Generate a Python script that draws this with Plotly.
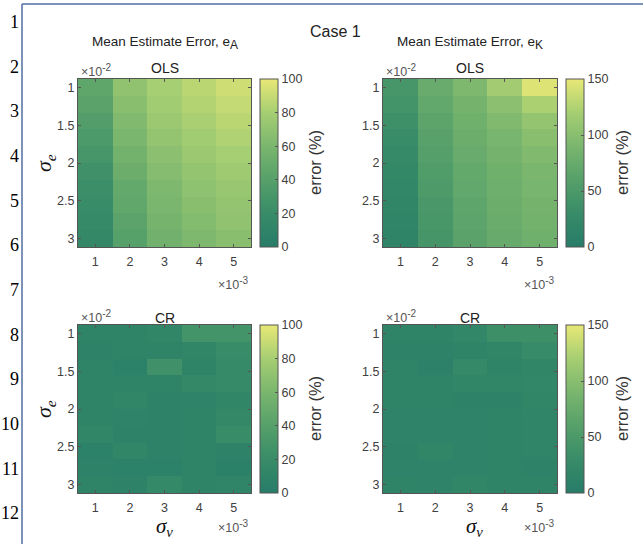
import plotly.graph_objects as go

W, H = 643, 544

sigma_v = [1, 2, 3, 4, 5]  # x 1e-3
sigma_e = [1.0, 1.222, 1.444, 1.667, 1.889, 2.111, 2.333, 2.556, 2.778, 3.0]  # x 1e-2

# rows = sigma_e (top to bottom), cols = sigma_v
eA_ols = [
    [45, 70, 80, 86, 92],
    [42, 67, 78, 84, 89],
    [37, 63, 75, 81, 86],
    [33, 60, 72, 78, 83],
    [30, 56, 68, 75, 80],
    [25, 52, 65, 72, 77],
    [22, 48, 62, 69, 74],
    [20, 46, 60, 67, 72],
    [18, 43, 58, 64, 70],
    [15, 40, 55, 62, 67],
]
eK_ols = [
    [45, 75, 92, 118, 145],
    [42, 70, 86, 102, 122],
    [36, 66, 82, 95, 108],
    [30, 62, 78, 88, 100],
    [27, 58, 75, 85, 95],
    [22, 55, 72, 82, 90],
    [20, 52, 70, 80, 88],
    [18, 48, 67, 78, 86],
    [16, 46, 65, 76, 84],
    [15, 44, 63, 74, 82],
]
eA_cr = [
    [10, 10, 12, 28, 28],
    [8, 10, 10, 12, 20],
    [10, 7, 25, 10, 18],
    [10, 10, 10, 15, 18],
    [10, 12, 8, 9, 12],
    [10, 9, 8, 10, 15],
    [12, 8, 8, 10, 20],
    [7, 12, 8, 10, 8],
    [8, 7, 7, 10, 6],
    [10, 8, 16, 10, 11],
]
eK_cr = [
    [15, 15, 20, 35, 35],
    [12, 12, 15, 18, 28],
    [15, 10, 25, 15, 18],
    [15, 15, 18, 18, 20],
    [15, 15, 12, 12, 18],
    [13, 13, 13, 15, 17],
    [13, 13, 13, 15, 17],
    [12, 18, 13, 15, 17],
    [13, 13, 13, 15, 12],
    [15, 13, 18, 15, 15],
]
cbar_A = [0, 20, 40, 60, 80, 100]
cbar_K = [0, 50, 100, 150]
x_ticks = [1, 2, 3, 4, 5]
y_ticks = [1, 1.5, 2, 2.5, 3]
line_numbers = [str(i) for i in range(1, 13)]

cscale = [
    [0.0, "rgb(38,124,104)"],
    [0.2, "rgb(56,140,104)"],
    [0.4, "rgb(86,160,106)"],
    [0.6, "rgb(122,182,110)"],
    [0.8, "rgb(166,206,114)"],
    [1.0, "rgb(232,232,118)"],
]

def px_x(p):
    return p / W

def px_y(p):
    return 1 - p / H

FONT = "Liberation Sans, Arial, sans-serif"
TICKC = "#404040"
TICKS = 12.5

left_x = (78, 251)
right_x = (383, 557)
top_y = (79, 247)
bot_y = (325, 493)
panels = [
    (eA_ols, left_x, top_y, 100, cbar_A, 260),
    (eK_ols, right_x, top_y, 150, cbar_K, 566),
    (eA_cr, left_x, bot_y, 100, cbar_A, 260),
    (eK_cr, right_x, bot_y, 150, cbar_K, 566),
]

fig = go.Figure()
layout = dict(
    width=W, height=H, margin=dict(l=0, r=0, t=0, b=0),
    paper_bgcolor="white", plot_bgcolor="white",
    font=dict(family=FONT, color=TICKC, size=12),
    showlegend=False,
)
for i, (z, xr, yr, zmax, cticks, cbx) in enumerate(panels, start=1):
    sfx = "" if i == 1 else str(i)
    fig.add_trace(go.Heatmap(
        x=sigma_v, y=sigma_e, z=z, zmin=0, zmax=zmax,
        colorscale=cscale, xaxis="x" + sfx, yaxis="y" + sfx,
        colorbar=dict(
            x=px_x(cbx), xanchor="left", xref="paper",
            y=px_y((yr[0] + yr[1]) / 2), yanchor="middle", yref="paper",
            len=(yr[1] - yr[0]) / H, lenmode="fraction",
            thickness=18, thicknessmode="pixels", xpad=0, ypad=0,
            outlinecolor="#555", outlinewidth=1,
            tickvals=cticks, ticks="inside", ticklen=3, tickcolor="#555",
            tickfont=dict(size=TICKS, color=TICKC, family=FONT),
        ),
    ))
    layout["xaxis" + sfx] = dict(
        domain=[px_x(xr[0]), px_x(xr[1])], anchor="y" + sfx,
        range=[0.5, 5.5], tickvals=x_ticks, ticks="inside", ticklen=3,
        tickcolor="#555", showline=True, linecolor="#555", linewidth=1,
        mirror="ticks", showgrid=False, zeroline=False, ticklabelstandoff=3,
        tickfont=dict(size=TICKS, color=TICKC),
    )
    layout["yaxis" + sfx] = dict(
        domain=[px_y(yr[1]), px_y(yr[0])], anchor="x" + sfx,
        range=[3.111, 0.889], tickvals=y_ticks, ticks="inside", ticklen=3,
        tickcolor="#555", showline=True, linecolor="#555", linewidth=1,
        mirror="ticks", showgrid=False, zeroline=False,
        tickfont=dict(size=TICKS, color=TICKC),
    )

ann = []
def add_text(text, x, y, size=12, color="#222", xanchor="center", yanchor="middle",
             angle=0, family=FONT):
    ann.append(dict(text=text, x=px_x(x), y=px_y(y), xref="paper", yref="paper",
                    xanchor=xanchor, yanchor=yanchor, showarrow=False,
                    textangle=angle, font=dict(size=size, color=color, family=family)))

add_text("Case 1", 335, 31, size=16)
add_text("Mean Estimate Error, e<sub><span style='font-size:12px'>A</span></sub>",
         165, 43, size=13.5)
add_text("Mean Estimate Error, e<sub><span style='font-size:12px'>K</span></sub>",
         470, 43, size=13.5)
for cx in (164.5, 470):
    add_text("OLS", cx, 68, size=14)
    add_text("CR", cx, 318, size=14)
for lx, ty in ((79, 70), (384, 70), (79, 316), (384, 316)):
    add_text("×10<sup><span style='font-size:10px'>-2</span></sup>", lx, ty,
             size=12.5, color="#555", xanchor="left")
for rx, by in ((251, 283), (557, 283), (251, 526), (557, 526)):
    add_text("×10<sup><span style='font-size:10px'>-3</span></sup>", rx, by,
             size=12.5, color="#555", xanchor="right")
for cy in (163, 409):
    add_text("<i>σ<sub>e</sub></i>", 45, cy, size=22, color="#111", angle=-90,
             family="Liberation Serif, serif")
for cx in (164, 474):
    add_text("<i>σ<sub>v</sub></i>", cx, 527, size=21, color="#111",
             family="Liberation Serif, serif")
for cbx in (315, 622):
    for cy in (163, 409):
        add_text("error (%)", cbx, cy, size=16.5, color="#333", angle=-90)
ln_y = [22, 67, 111, 156, 201, 245, 290, 335, 379, 424, 469, 513]
for t, y in zip(line_numbers, ln_y):
    add_text(t, 21, y, size=18, color="#000", xanchor="right",
             family="Liberation Serif, serif")
layout["annotations"] = ann
layout["shapes"] = [
    dict(type="line", xref="paper", yref="paper", x0=px_x(22), x1=px_x(22),
         y0=px_y(4), y1=0, line=dict(color="rgb(80,110,160)", width=1.5)),
    dict(type="line", xref="paper", yref="paper", x0=px_x(22), x1=1,
         y0=px_y(4), y1=px_y(4), line=dict(color="rgb(80,110,160)", width=1.5)),
]
fig.update_layout(**layout)
fig.write_html("out.html", config={"displayModeBar": False},
               post_script="document.body.style.margin='0';document.body.style.overflow='hidden';")
